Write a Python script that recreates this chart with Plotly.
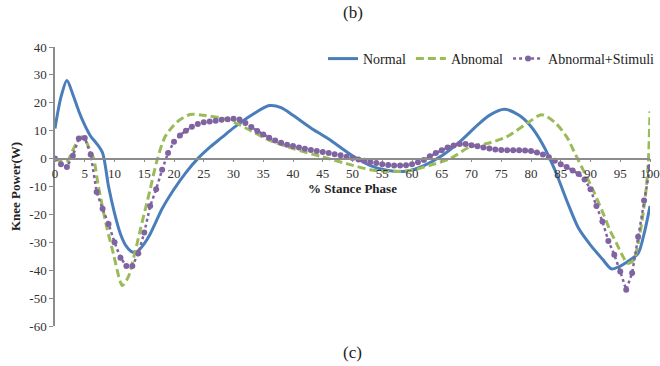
import plotly.graph_objects as go

# ---------------- data ----------------
normal_x = [0, 1, 2, 3, 4, 5, 6, 7, 8, 9, 10, 11, 12, 13, 14, 15, 16, 17, 18, 20, 22, 24, 26, 28, 30,
            33, 36, 38, 40, 43, 46, 50, 53, 56, 59, 62, 65, 68, 71, 73, 75.5, 78, 80, 82, 84, 86, 88,
            90, 92, 93.5, 95, 96.5, 98, 99, 100]
normal_y = [10.8, 22, 28, 23, 17, 12, 8, 5.4, 2, -10, -19.5, -27, -31.5, -33.5, -33, -30.5, -27, -22.5,
            -18, -11, -5, 0, 4, 7.5, 11, 15.5, 19, 18.3, 15.5, 11, 7, 1, -2.5, -4.3, -4.5, -2.5, 1, 6,
            12, 15.5, 17.7, 15.5, 11.5, 5, -4, -15, -25, -31, -36, -39.5, -38.5, -36.5, -34, -27, -17]

abn_x = [0, 1, 2, 3, 4, 4.5, 5, 6, 6.5, 7.3, 8.7, 9.8, 10.9, 11.3, 12.3, 13.4, 14.3, 15.4, 16, 17.1,
         18.5, 20.5, 22.7, 25, 28, 30, 32.2, 36, 40, 45, 49, 53.5, 57, 60, 63, 66.4, 69.7, 72.6, 75.9,
         79.3, 81.8, 84, 86, 87.4, 88.8, 90.2, 92, 93.3, 94.4, 95.5, 96.2, 97.2, 98.3, 99.2, 99.7, 100]
abn_y = [0, -1, -1, 3, 7, 7.8, 7, 2.5, 0, -10, -24.6, -34, -43.7, -45.5, -42.5, -34, -25.8, -16.2, -11,
         -1, 7.8, 13.1, 15.8, 15.5, 14.5, 13.1, 10.8, 6.6, 3.6, 0.6, -1.8, -4.2, -4.6, -4.2, -2.4, 0,
         4.2, 5.4, 7.8, 12.6, 15.7, 13, 7.8, 1.8, -4.2, -10.2, -19, -25.8, -30.5, -35.3, -37.5, -36.5,
         -27, -13.8, -2, 17]

stim_x = list(range(0, 101))
stim_y = [0, -2, -3, 1, 7.2, 7.4, 1.5, -12, -18, -23.4, -30, -35.5, -38.5, -38.5, -34, -26.5, -17,
          -11, -4, 2, 6, 8.3, 10, 11.4, 12.4, 13, 13.3, 13.6, 13.9, 14.1, 14.3, 14, 12.8, 11.3, 9.9,
          8.6, 7.5, 6.5, 5.7, 5, 4.5, 4, 3.5, 3.1, 2.7, 2.4, 2, 1.6, 1.2, 0.7, 0.2, -0.3, -0.8, -1.2,
          -1.6, -2, -2.3, -2.5, -2.5, -2.4, -2, -1.3, -0.5, 0.8, 2, 3, 4, 4.7, 5.2, 5.2, 4.8, 4.4, 4,
          3.6, 3.3, 3.1, 3, 3, 3, 2.9, 2.7, 2.2, 1.5, 0.5, -0.8, -2, -3, -4.3, -5.5, -7.5, -11, -17,
          -22.5, -29.5, -34.5, -40.5, -47, -41, -28, -15, -3]

x_ticks = list(range(0, 101, 5))
y_ticks = [40, 30, 20, 10, 0, -10, -20, -30, -40, -50, -60]
y_tick_text = ["40", "30", "20", "10", "0", "-10", "-20", "-30", "-40", "-50", "-60"]

# ---------------- figure ----------------
FONT = "Liberation Serif"
fig = go.Figure()
fig.add_trace(go.Scatter(x=normal_x, y=normal_y, name="Normal", mode="lines",
                         line=dict(color="#4A7EBB", width=3, shape="spline", smoothing=0.8)))
fig.add_trace(go.Scatter(x=abn_x, y=abn_y, name="Abnomal", mode="lines",
                         line=dict(color="#9BBB59", width=3, dash="8px,4px", shape="spline",
                                   smoothing=0.8)))
fig.add_trace(go.Scatter(x=stim_x, y=stim_y, name="Abnormal+Stimuli", mode="lines+markers",
                         line=dict(color="#8064A2", width=2.5, dash="dot"),
                         marker=dict(color="#8064A2", size=6, symbol="circle")))

fig.update_layout(
    width=660, height=366,
    margin=dict(l=55, r=10, t=47, b=40, autoexpand=False),
    paper_bgcolor="white", plot_bgcolor="white",
    font=dict(family=FONT, size=13, color="#333333"),
    showlegend=True,
    legend=dict(orientation="h", xref="container", x=1.0, xanchor="right",
                y=0.957, yanchor="middle",
                font=dict(family=FONT, size=14, color="#222222"),
                bgcolor="rgba(0,0,0,0)", itemwidth=30, tracegroupgap=0),
    xaxis=dict(range=[0, 100], tickmode="array", tickvals=x_ticks,
               showgrid=False, zeroline=False, showline=True, linecolor="#8C8C8C", linewidth=1.5,
               ticks="outside", ticklen=3, tickcolor="#8C8C8C",
               anchor="free", position=0.6,
               tickfont=dict(family=FONT, size=13, color="#333333"),
               title=dict(text="<b>% Stance Phase</b>", standoff=3,
                          font=dict(family=FONT, size=13, color="#222222"))),
    yaxis=dict(range=[-60, 40], tickmode="array", tickvals=y_ticks, ticktext=y_tick_text,
               showgrid=False, zeroline=False, showline=True, linecolor="#8C8C8C", linewidth=1.5,
               ticks="outside", ticklen=4, tickcolor="#8C8C8C",
               tickfont=dict(family=FONT, size=13, color="#333333"),
               title=dict(text="<b>Knee Power(W)</b>", standoff=6,
                          font=dict(family=FONT, size=13, color="#222222"))),
    annotations=[
        dict(text="(b)", x=0.5, xref="paper", y=1, yref="paper", yshift=35, showarrow=False,
             font=dict(family=FONT, size=17, color="#222222"), xanchor="center", yanchor="middle"),
        dict(text="(c)", x=0.5, xref="paper", y=0, yref="paper", yshift=-26, showarrow=False,
             font=dict(family=FONT, size=17, color="#222222"), xanchor="center", yanchor="middle"),
    ],
)

fig.write_html("out.html")
